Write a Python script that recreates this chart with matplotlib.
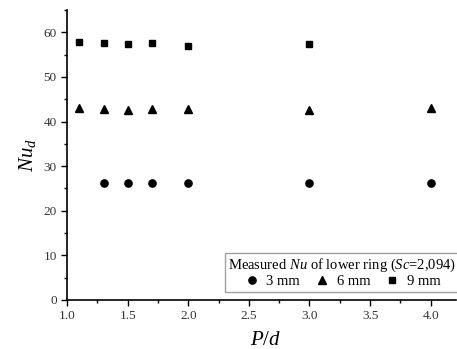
import matplotlib
matplotlib.use("Agg")
import matplotlib.pyplot as plt
from matplotlib.ticker import MultipleLocator

plt.rcParams['font.family'] = ['Liberation Serif', 'DejaVu Serif']
plt.rcParams['mathtext.fontset'] = 'custom'
plt.rcParams['mathtext.it'] = 'Liberation Serif:italic'
plt.rcParams['mathtext.rm'] = 'Liberation Serif'

# data
pd_3mm = [1.3, 1.5, 1.7, 2.0, 3.0, 4.0]
nu_3mm = [26.1, 26.3, 26.3, 26.2, 26.1, 26.1]
pd_6mm = [1.1, 1.3, 1.5, 1.7, 2.0, 3.0, 4.0]
nu_6mm = [43.1, 42.9, 42.7, 42.8, 42.9, 42.7, 43.1]
pd_9mm = [1.1, 1.3, 1.5, 1.7, 2.0, 3.0]
nu_9mm = [57.8, 57.6, 57.4, 57.6, 57.0, 57.4]

fig = plt.figure(figsize=(4.57, 3.49), dpi=100)
ax = fig.add_axes([0.147, 0.141, 0.851, 0.830])

ax.plot(pd_3mm, nu_3mm, 'o', color='black', ms=5.2, label='3 mm')
ax.plot(pd_6mm, nu_6mm, '^', color='black', ms=5.8, label='6 mm')
ax.plot(pd_9mm, nu_9mm, 's', color='black', ms=4.4, label='9 mm')

ax.set_xlim(1.0, 4.21)
ax.set_ylim(0, 65)
ax.xaxis.set_major_locator(MultipleLocator(0.5))
ax.xaxis.set_minor_locator(MultipleLocator(0.25))
ax.yaxis.set_major_locator(MultipleLocator(10))
ax.yaxis.set_minor_locator(MultipleLocator(5))
ax.set_xticks([1.0, 1.5, 2.0, 2.5, 3.0, 3.5, 4.0])

ax.spines['top'].set_visible(False)
ax.spines['right'].set_visible(False)
ax.spines['left'].set_linewidth(1.2)
ax.spines['bottom'].set_linewidth(1.2)
ax.tick_params(which='major', direction='out', length=4, width=1, labelsize=9.5, colors='black')
ax.tick_params(which='minor', direction='out', length=2.5, width=1)
for lbl in ax.get_xticklabels() + ax.get_yticklabels():
    lbl.set_color('#333333')

ax.set_xlabel('$P/d$', fontsize=15, va='center')
ax.xaxis.set_label_coords(0.51, -0.14)
ax.set_ylabel('$Nu_d$', fontsize=15, va='center')
ax.yaxis.set_label_coords(-0.103, 0.50)

leg = ax.legend(ncol=3, title='Measured $Nu$ of lower ring ($Sc$=2,094)',
                loc='lower left', bbox_to_anchor=(0.405, 0.027), fontsize=10.5,
                title_fontsize=10.5, frameon=True, fancybox=False,
                edgecolor='#888888', handlelength=1.0, handletextpad=0.5,
                columnspacing=1.0, borderpad=0.25, labelspacing=0.1,
                borderaxespad=0)
leg.get_frame().set_linewidth(1.0)

fig.savefig('out.png', dpi=100)
